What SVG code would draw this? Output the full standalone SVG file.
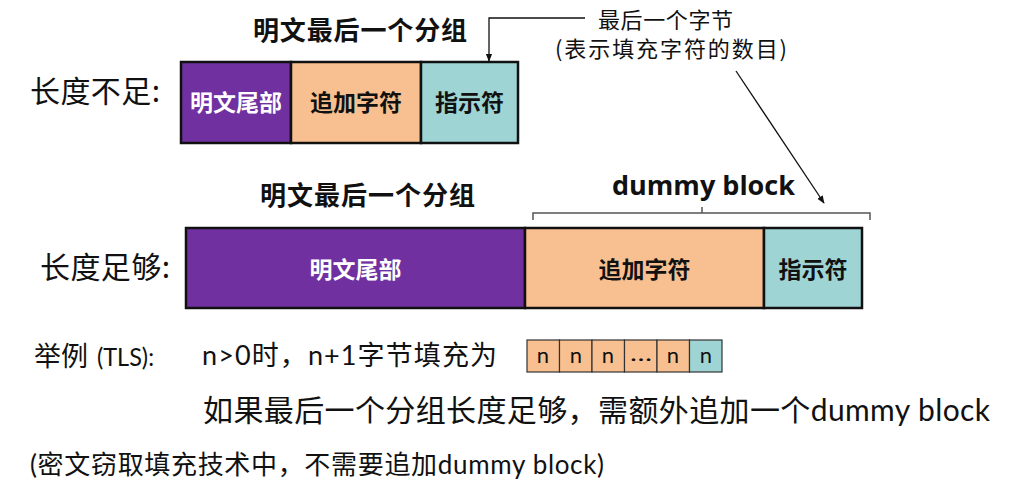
<svg xmlns="http://www.w3.org/2000/svg" width="1010" height="494" viewBox="0 0 1010 494">
  <defs>
    <marker id="arrow" viewBox="0 0 10 10" refX="9" refY="5" markerWidth="8" markerHeight="8" orient="auto" markerUnits="userSpaceOnUse">
      <path d="M0,1 L10,5 L0,9 z" fill="#111"/>
    </marker>
    <style>
      .cjk { font-family: "Noto Sans CJK SC", sans-serif; }
      .mix { font-family: Lato, "Noto Sans CJK SC", sans-serif; }
      .title { font-size: 26px; font-weight: bold; fill: #111; }
      .side { font-size: 30px; fill: #111; }
      .lbl { font-size: 23px; font-weight: bold; text-anchor: middle; }
      .box { stroke: #111; stroke-width: 2.5; }
      .cell { stroke: #333; stroke-width: 1.2; }
      .purple { fill: #7030A0; }
      .orange { fill: #F8C090; }
      .teal { fill: #9ED4D4; }
      .conn { fill: none; stroke: #111; stroke-width: 1.3; }
      .note { font-size: 22px; fill: #111; }
      .n { font-size: 22px; fill: #111; text-anchor: middle; font-family: Lato, sans-serif; }
    </style>
  </defs>
  <rect width="1010" height="494" fill="#fff"/>

  <!-- short block row -->
  <g id="short-row">
    <text class="cjk side" x="30" y="102" textLength="130">长度不足:</text>
    <text class="cjk title" x="253" y="40" textLength="214">明文最后一个分组</text>
    <rect class="box purple" x="181" y="62" width="110" height="81"/>
    <rect class="box orange" x="291" y="62" width="130" height="81"/>
    <rect class="box teal" x="421" y="62" width="97" height="81"/>
    <text class="cjk lbl" x="236" y="111" fill="#fff">明文尾部</text>
    <text class="cjk lbl" x="356" y="111" fill="#111">追加字符</text>
    <text class="cjk lbl" x="469.5" y="111" fill="#111">指示符</text>
  </g>

  <!-- note about the last byte -->
  <g id="last-byte-note">
    <text class="cjk note" x="598" y="28" textLength="135">最后一个字节</text>
    <text class="cjk note" x="555" y="57" textLength="232">(表示填充字符的数目)</text>
  </g>

  <!-- full block row with dummy block -->
  <g id="full-row">
    <text class="cjk side" x="40" y="278" textLength="130">长度足够:</text>
    <text class="cjk title" x="260" y="205" textLength="215">明文最后一个分组</text>
    <rect class="box purple" x="186" y="228" width="339" height="80"/>
    <rect class="box orange" x="525" y="228" width="239" height="80"/>
    <rect class="box teal" x="764" y="228" width="98" height="80"/>
    <text class="cjk lbl" x="355.5" y="278" fill="#fff">明文尾部</text>
    <text class="cjk lbl" x="644.5" y="278" fill="#111">追加字符</text>
    <text class="cjk lbl" x="813" y="278" fill="#111">指示符</text>
  </g>

  <!-- brace over the dummy block -->
  <g id="dummy-brace">
    <text x="612" y="195" font-family="'Open Sans', sans-serif" font-size="27" font-weight="bold" fill="#111" textLength="183" lengthAdjust="spacingAndGlyphs">dummy block</text>
    <path d="M533,220 L533,213 L870,213 L870,220 M702,213 L702,207" fill="none" stroke="#555" stroke-width="1.5"/>
  </g>

  <!-- TLS example -->
  <g id="tls-example">
    <text class="cjk" x="34" y="366" font-size="27" fill="#111">举例</text>
    <text x="97" y="366" font-family="Lato, sans-serif" font-size="25" fill="#111" textLength="57" lengthAdjust="spacingAndGlyphs">(TLS):</text>
    <text class="mix" x="202" y="365" font-size="27" fill="#111" textLength="295">n&gt;0时，n+1字节填充为</text>
  </g>

  <g id="tls-bytes">
    <rect class="cell orange" x="527" y="340" width="32.5" height="32"/>
    <rect class="cell orange" x="559.5" y="340" width="32.5" height="32"/>
    <rect class="cell orange" x="592" y="340" width="32.5" height="32"/>
    <rect class="cell orange" x="624.5" y="340" width="32.5" height="32"/>
    <rect class="cell orange" x="657" y="340" width="32.5" height="32"/>
    <rect class="cell teal" x="689.5" y="340" width="32.5" height="32"/>
    <text class="n" x="543" y="363">n</text>
    <text class="n" x="576" y="363">n</text>
    <text class="n" x="608" y="363">n</text>
    <text class="n" x="641" y="361" textLength="22" lengthAdjust="spacingAndGlyphs">…</text>
    <text class="n" x="673" y="363">n</text>
    <text class="n" x="706" y="363">n</text>
  </g>

  <g id="notes">
    <text class="mix" x="203" y="421" font-size="30" fill="#111" textLength="787">如果最后一个分组长度足够，需额外追加一个dummy block</text>
    <text class="mix" x="30" y="474" font-size="26" fill="#111" textLength="574">(密文窃取填充技术中，不需要追加dummy block)</text>
  </g>

  <!-- connectors -->
  <g id="connectors">
    <polyline class="conn" points="585,18 489,18 489,61" marker-end="url(#arrow)"/>
    <line class="conn" x1="736" y1="71" x2="824" y2="203" marker-end="url(#arrow)"/>
  </g>
</svg>
